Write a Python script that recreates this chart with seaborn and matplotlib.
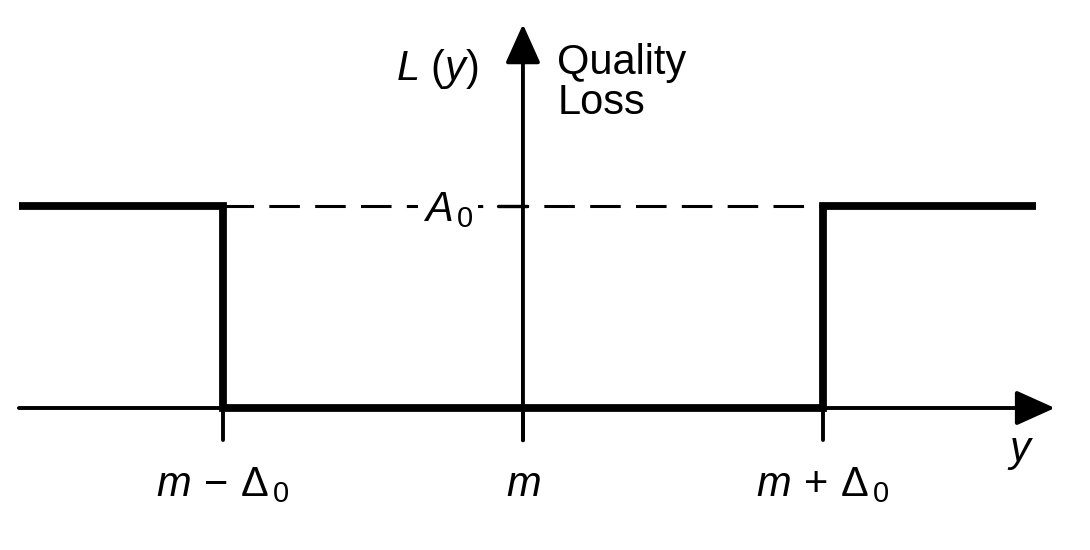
import matplotlib
matplotlib.use("Agg")
import matplotlib.pyplot as plt
import seaborn as sns
import pandas as pd

# step loss function: m = 0, delta0 = 1, A0 = 1
step_x = [-1.68, -1.0, -1.0, 1.0, 1.0, 1.71]
step_y = [1.0, 1.0, 0.0, 0.0, 1.0, 1.0]
tick_pos = [-1.0, 0.0, 1.0]
tick_labels = [r"$m\, -\, \Delta_{\,0}$", r"$m$", r"$m\, +\, \Delta_{\,0}$"]
a0_level = 1.0

sns.set_style("white")
plt.rcParams["font.family"] = ["Liberation Sans", "DejaVu Sans"]
plt.rcParams["mathtext.fontset"] = "custom"
plt.rcParams["mathtext.rm"] = "Liberation Sans"
plt.rcParams["mathtext.it"] = "Liberation Sans:italic"
plt.rcParams["text.color"] = "black"

fig = plt.figure(figsize=(10.9, 5.5), dpi=100)
ax = fig.add_axes([0, 0, 1, 1])
ax.set_xlim(-1.743, 1.89)
ax.set_ylim(-0.703, 2.02)
ax.axis("off")

df = pd.DataFrame({"y": step_x, "loss": step_y})
sns.lineplot(data=df, x="y", y="loss", sort=False, estimator=None,
             color="black", lw=5.6, ax=ax, solid_joinstyle="miter",
             solid_capstyle="butt")

# dashed A0 level
ax.plot([tick_pos[0], tick_pos[2]], [a0_level, a0_level], color="black",
        lw=2.2, dashes=(10, 5), zorder=1)

# axes with arrows
arrow = dict(arrowstyle="-|>,head_length=0.6,head_width=0.27", lw=2.8,
             color="black", mutation_scale=40, shrinkA=0, shrinkB=0)
ax.annotate("", xy=(1.773, 0), xytext=(-1.68, 0), arrowprops=arrow)
ax.annotate("", xy=(0, 1.90), xytext=(0, -0.16), arrowprops=arrow)

# tick marks below the axis
for p in tick_pos:
    ax.plot([p, p], [0, -0.16], color="black", lw=2.8)
ax.plot([-0.083, 0.013], [a0_level, a0_level], color="black", lw=2.4, zorder=3)

# labels
for p, lab in zip(tick_pos, tick_labels):
    ax.text(p, -0.38, lab, ha="center", va="center", fontsize=30)
ax.text(-0.25, a0_level - 0.02, r"$A_{\,0}$", ha="center", va="center",
        fontsize=30, bbox=dict(facecolor="white", edgecolor="none", pad=3),
        zorder=2)
ax.text(-0.287, 1.68, r"$L\ (y)$", ha="center", va="center", fontsize=30)
ax.text(0.115, 1.61, "Quality\nLoss", ha="left", va="center", fontsize=30,
        linespacing=1.0)
ax.text(1.66, -0.22, r"$y$", ha="center", va="center", fontsize=30)

fig.savefig("out.png", dpi=100)
